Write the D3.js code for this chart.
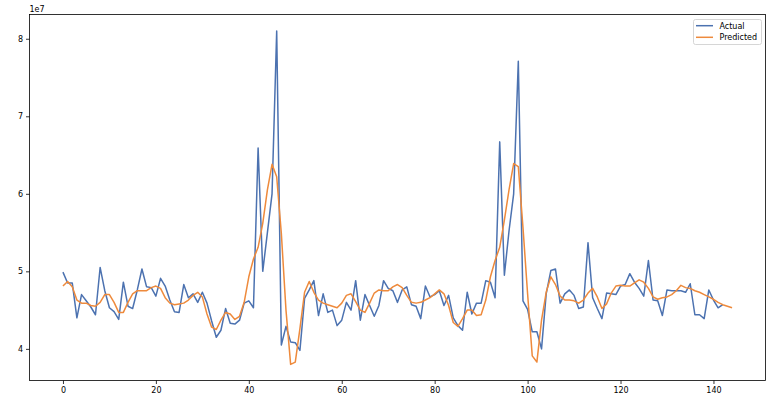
<!DOCTYPE html>
<html><head><meta charset="utf-8">
<script src="https://cdn.jsdelivr.net/npm/d3@7"></script>
<style>body{margin:0;background:#fff;} svg{display:block;font-family:"DejaVu Sans",sans-serif;}</style>
</head><body>
<svg id="c" width="783" height="401"></svg>
<script>
// values in units of 1e7
const actual = [4.99,4.85,4.85,4.40,4.70,4.62,4.54,4.44,5.05,4.75,
4.53,4.48,4.38,4.86,4.55,4.52,4.76,5.03,4.80,4.79,
4.68,4.91,4.81,4.63,4.48,4.47,4.83,4.66,4.71,4.60,
4.73,4.59,4.36,4.15,4.24,4.52,4.33,4.32,4.37,4.59,
4.62,4.53,6.59,5.00,5.50,6.00,8.10,4.05,4.29,4.09,
4.08,3.98,4.65,4.76,4.88,4.43,4.71,4.47,4.50,4.30,
4.37,4.60,4.50,4.88,4.37,4.70,4.56,4.42,4.56,4.88,
4.78,4.75,4.60,4.76,4.80,4.57,4.55,4.39,4.81,4.67,
4.70,4.75,4.56,4.69,4.40,4.30,4.24,4.73,4.45,4.59,
4.59,4.88,4.86,4.66,6.67,4.95,5.52,6.00,7.71,4.62,
4.51,4.22,4.22,4.00,4.71,5.01,5.03,4.59,4.71,4.76,
4.69,4.52,4.54,5.37,4.66,4.52,4.39,4.72,4.71,4.70,
4.81,4.83,4.97,4.86,4.78,4.68,5.14,4.63,4.62,4.43,
4.76,4.75,4.75,4.75,4.73,4.84,4.44,4.44,4.39,4.76,
4.63,4.53,4.57];
const predicted = [4.81,4.87,4.80,4.63,4.59,4.59,4.56,4.55,4.60,4.70,
4.70,4.60,4.47,4.47,4.60,4.71,4.75,4.75,4.75,4.79,
4.81,4.78,4.66,4.59,4.57,4.58,4.59,4.63,4.69,4.73,
4.67,4.45,4.28,4.25,4.37,4.47,4.45,4.38,4.42,4.60,
4.93,5.16,5.31,5.62,6.05,6.38,6.22,5.49,4.50,3.80,
3.83,4.26,4.73,4.87,4.73,4.63,4.59,4.57,4.55,4.53,
4.59,4.69,4.71,4.61,4.50,4.47,4.59,4.72,4.76,4.75,
4.75,4.80,4.83,4.79,4.69,4.60,4.59,4.60,4.63,4.66,
4.71,4.76,4.71,4.56,4.34,4.29,4.39,4.50,4.50,4.43,
4.44,4.63,4.93,5.14,5.31,5.66,6.05,6.39,6.35,5.57,
4.71,3.91,3.83,4.37,4.73,4.93,4.83,4.68,4.63,4.63,
4.62,4.59,4.63,4.72,4.78,4.67,4.52,4.58,4.72,4.81,
4.82,4.81,4.81,4.85,4.89,4.86,4.78,4.67,4.64,4.66,
4.67,4.70,4.75,4.82,4.79,4.78,4.75,4.73,4.70,4.67,
4.64,4.60,4.57,4.55,4.53];
const xTicks = [0,20,40,60,80,100,120,140];
const yTicks = [4,5,6,7,8];
const seriesNames = ["Actual","Predicted"];
const colors = ["#4c72b0","#ee8a3c"];

const svg = d3.select("#c");
const L=29.5, R=765.5, T=14.5, B=380.5;
const x = d3.scaleLinear().domain([-7.2,151.2]).range([L,R]);
const y = d3.scaleLinear().domain([3.592,8.313]).range([B,T]);

const fs = 8;
const xa = svg.append("g").attr("transform",`translate(0,${B})`)
  .call(d3.axisBottom(x).tickValues(xTicks).tickSize(3.5).tickPadding(3).tickFormat(d3.format("d")));
const ya = svg.append("g").attr("transform",`translate(${L},0)`)
  .call(d3.axisLeft(y).tickValues(yTicks).tickSize(3.5).tickPadding(3).tickFormat(d3.format("d")));
[xa,ya].forEach(a=>{
  a.select(".domain").remove();
  a.selectAll("line").attr("stroke","#000").attr("stroke-width",0.8);
  a.selectAll("text").attr("font-size",fs).attr("fill","#000").attr("font-family","DejaVu Sans");
});
svg.append("text").attr("x",L).attr("y",T-2.5).attr("font-size",fs).text("1e7");

const line = d3.line().x((d,i)=>x(i)).y(d=>y(d));
[actual,predicted].forEach((s,k)=>{
  svg.append("path").datum(s).attr("d",line).attr("fill","none")
    .attr("stroke",colors[k]).attr("stroke-width",1.5).attr("stroke-linejoin","round");
});
svg.append("rect").attr("x",L).attr("y",T).attr("width",R-L).attr("height",B-T)
  .attr("fill","none").attr("stroke","#000").attr("stroke-width",0.8);

const lg = svg.append("g");
lg.append("rect").attr("x",693.5).attr("y",19.5).attr("width",68).attr("height",25)
  .attr("rx",2).attr("fill","#fff").attr("fill-opacity",0.8).attr("stroke","#ccc").attr("stroke-width",0.8);
seriesNames.forEach((n,k)=>{
  const yy = 25.7 + k*11.6;
  lg.append("line").attr("x1",696).attr("x2",713).attr("y1",yy).attr("y2",yy)
    .attr("stroke",colors[k]).attr("stroke-width",1.5);
  lg.append("text").attr("x",719.5).attr("y",yy).attr("dy","0.35em").attr("font-size",fs).text(n);
});
</script>
</body></html>
